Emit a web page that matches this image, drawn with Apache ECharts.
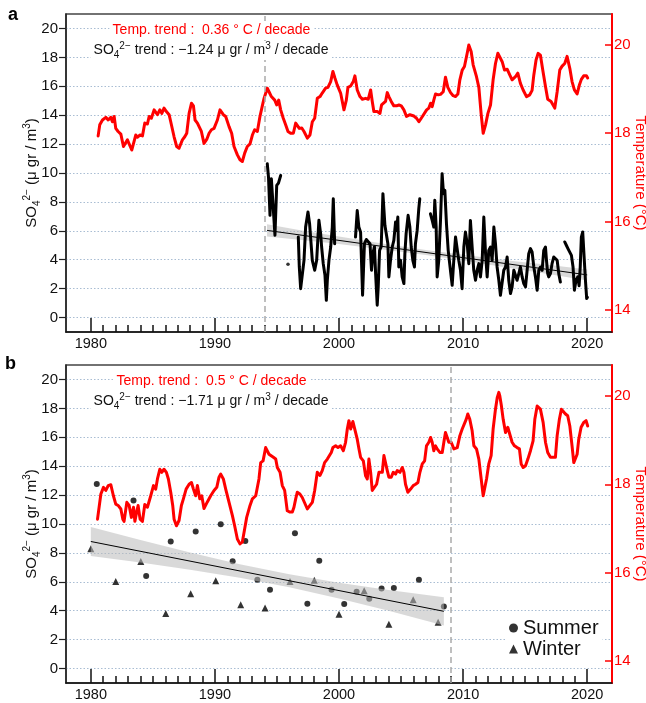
<!DOCTYPE html>
<html>
<head>
<meta charset="utf-8">
<script src="https://cdn.jsdelivr.net/npm/echarts@6/dist/echarts.min.js"></script>
<style>
  html, body { margin: 0; padding: 0; background: #fff; }
  #chart { width: 646px; height: 703px; }
</style>
</head>
<body>
<div id="chart"></div>
<script>
// tick labels
const yearLabels = [1980, 1990, 2000, 2010, 2020];
const soLabels = [0, 2, 4, 6, 8, 10, 12, 14, 16, 18, 20];
const tempLabels = [14, 16, 18, 20];
let yearMinor = [];
for (let y = 1981; y < 2020; y++) yearMinor.push(y);

// panel a - temperature (right axis)
const tempAYears = [1980.59,1980.72,1980.94,1981.21,1981.40,1981.61,1981.74,1981.88,1982.01,1982.20,1982.42,1982.63,1982.74,1982.95,1983.09,1983.30,1983.44,1983.62,1983.76,1983.97,1984.16,1984.35,1984.56,1984.70,1984.88,1985.10,1985.23,1985.37,1985.56,1985.72,1985.90,1986.09,1986.31,1986.44,1986.71,1986.92,1987.11,1987.38,1987.57,1987.73,1987.92,1988.11,1988.27,1988.40,1988.59,1988.75,1988.91,1989.12,1989.34,1989.53,1989.72,1989.93,1990.20,1990.41,1990.52,1990.68,1990.87,1991.14,1991.35,1991.54,1991.81,1992.02,1992.21,1992.40,1992.61,1992.83,1993.02,1993.20,1993.42,1993.63,1993.82,1993.96,1994.09,1994.22,1994.36,1994.55,1994.71,1994.82,1994.98,1995.14,1995.30,1995.51,1995.70,1995.89,1996.10,1996.32,1996.51,1996.64,1996.80,1997.00,1997.18,1997.45,1997.66,1997.85,1998.04,1998.25,1998.47,1998.65,1998.92,1999.11,1999.33,1999.51,1999.67,1999.86,2000.13,2000.40,2000.59,2000.72,2000.94,2001.15,2001.28,2001.47,2001.69,2001.88,2002.14,2002.36,2002.55,2002.68,2002.81,2003.08,2003.30,2003.43,2003.57,2003.75,2003.89,2004.02,2004.21,2004.42,2004.64,2004.83,2005.02,2005.23,2005.44,2005.71,2006.04,2006.25,2006.44,2006.63,2006.79,2007.06,2007.24,2007.38,2007.51,2007.64,2007.78,2008.00,2008.18,2008.40,2008.58,2008.77,2008.99,2009.20,2009.39,2009.58,2009.74,2009.93,2010.11,2010.33,2010.46,2010.65,2010.81,2011.08,2011.27,2011.46,2011.62,2011.81,2012.00,2012.21,2012.42,2012.61,2012.80,2012.93,2013.15,2013.34,2013.55,2013.76,2013.95,2014.22,2014.41,2014.62,2014.84,2015.11,2015.37,2015.56,2015.70,2015.88,2016.05,2016.23,2016.42,2016.64,2016.82,2017.09,2017.25,2017.39,2017.58,2017.79,2017.98,2018.19,2018.38,2018.60,2018.78,2018.97,2019.19,2019.37,2019.53,2019.72,2019.94,2020.04];
const tempAVals = [17.94,18.19,18.30,18.36,18.30,18.36,18.26,18.38,18.11,18.04,17.98,17.70,17.66,17.85,17.81,17.62,17.58,17.96,17.91,17.96,17.94,18.23,18.21,18.38,18.34,18.53,18.57,18.42,18.53,18.45,18.57,18.49,18.42,18.26,17.92,17.70,17.66,17.85,17.92,18.00,18.45,18.68,18.62,18.30,18.23,18.24,18.04,17.77,17.86,18.00,18.08,18.11,18.30,18.53,18.57,18.42,18.38,18.15,18.00,17.70,17.51,17.40,17.36,17.55,17.70,17.76,17.96,18.08,18.04,18.38,18.62,18.79,18.83,19.02,18.94,18.83,18.87,18.75,18.64,18.75,18.53,18.34,18.19,18.04,18.00,18.00,18.23,18.21,18.11,18.12,18.04,17.89,17.96,18.26,18.34,18.79,18.83,18.91,19.02,19.04,19.17,19.40,19.25,19.09,18.91,18.53,18.75,19.04,19.07,19.17,19.30,18.98,18.83,18.77,18.79,18.77,18.98,18.72,18.49,18.49,18.45,18.64,18.60,18.72,18.92,18.83,18.72,18.62,18.62,18.64,18.62,18.53,18.38,18.42,18.39,18.34,18.26,18.34,18.30,18.53,18.57,18.68,18.60,18.75,18.89,18.87,18.88,18.94,19.27,19.04,18.92,18.85,18.83,18.89,19.21,19.43,19.51,19.81,20.00,19.85,19.55,19.28,19.04,18.42,18.00,18.19,18.45,18.64,19.21,19.58,19.81,19.85,19.62,19.43,19.45,19.32,19.21,19.28,19.36,19.13,18.98,18.83,18.87,18.97,19.32,19.66,19.81,19.77,19.43,19.06,18.77,18.72,18.64,18.57,18.94,19.43,19.52,19.58,19.74,19.47,19.17,18.98,18.89,19.09,19.22,19.30,19.30,19.25];

// panel a - SO4 (left axis), null = no measurement
const so4AYears = [1994.22,1994.32,1994.44,1994.55,1994.68,1994.84,1994.98,1995.12,1995.30,1995.60,1995.89,1996.30,1996.72,1996.80,1996.91,1997.04,1997.18,1997.31,1997.50,1997.63,1997.85,1998.04,1998.20,1998.38,1998.47,1998.52,1998.60,1998.73,1998.87,1998.98,1999.06,1999.19,1999.33,1999.46,1999.54,1999.65,2000.50,2001.33,2001.47,2001.60,2001.74,2001.90,2002.05,2002.20,2002.35,2002.50,2002.62,2002.74,2002.86,2002.95,2003.08,2003.16,2003.27,2003.40,2003.54,2003.70,2003.83,2003.94,2004.02,2004.15,2004.29,2004.42,2004.56,2004.64,2004.74,2004.82,2004.96,2005.09,2005.23,2005.31,2005.41,2005.57,2005.71,2005.82,2005.95,2006.08,2006.16,2006.30,2006.43,2006.51,2006.90,2007.37,2007.51,2007.64,2007.72,2007.83,2007.91,2008.04,2008.18,2008.31,2008.42,2008.53,2008.66,2008.80,2008.98,2009.12,2009.25,2009.39,2009.52,2009.65,2009.79,2009.92,2010.06,2010.19,2010.33,2010.46,2010.59,2010.73,2010.86,2011.00,2011.13,2011.27,2011.40,2011.54,2011.67,2011.81,2011.94,2012.07,2012.21,2012.34,2012.48,2012.61,2012.74,2012.88,2013.01,2013.15,2013.28,2013.42,2013.55,2013.68,2013.82,2013.95,2014.09,2014.22,2014.35,2014.49,2014.62,2014.76,2014.89,2015.03,2015.16,2015.29,2015.43,2015.56,2015.70,2015.83,2015.97,2016.10,2016.24,2016.37,2016.50,2016.64,2016.72,2016.82,2016.90,2017.04,2017.17,2017.31,2017.44,2017.58,2017.71,2017.84,2018.00,2018.19,2018.32,2018.45,2018.60,2018.73,2018.86,2018.97,2019.10,2019.24,2019.35,2019.44,2019.53,2019.64,2019.75,2019.86,2019.96,2020.02];
const so4AVals = [10.64,9.70,7.07,9.60,9.50,5.69,9.14,9.30,9.83,null,3.68,null,5.57,3.50,2.00,2.12,3.96,6.26,7.30,6.49,3.96,3.27,3.96,6.73,6.84,5.80,4.88,3.73,2.92,1.19,2.58,3.96,4.88,6.26,8.22,5.11,null,5.57,7.40,6.26,5.90,1.54,5.11,5.40,5.30,5.10,3.27,4.50,4.90,3.04,0.85,2.10,4.65,4.90,8.57,6.38,6.26,5.11,2.81,3.96,4.88,5.34,6.61,6.03,6.95,3.50,3.96,2.81,2.35,4.42,5.80,7.07,6.26,4.88,3.96,3.50,5.11,6.03,7.53,8.22,null,7.18,6.72,6.26,8.11,6.26,2.81,3.96,6.72,9.95,8.57,8.80,6.49,4.65,3.27,2.23,3.96,5.57,5.69,3.96,3.27,2.00,4.88,5.92,5.11,3.73,6.72,4.88,3.27,2.58,3.27,3.73,2.81,3.96,6.95,4.42,2.81,4.65,4.88,3.96,6.26,5.11,3.50,2.58,1.54,1.66,3.27,3.50,4.19,2.58,1.66,2.12,3.27,3.27,2.58,3.04,3.50,2.81,2.35,2.12,3.27,4.42,4.77,4.54,3.50,2.81,1.89,3.27,3.50,3.27,4.65,4.88,3.96,3.04,2.81,3.04,3.73,4.19,4.31,3.96,3.04,2.46,null,5.23,5.00,4.77,4.65,4.30,3.50,1.89,2.58,2.81,2.20,3.50,5.57,5.92,5.80,2.58,1.31,1.40];

const trendAYears = [1994.2, 2020];
const trendAVals = [6.03, 2.95];
const bandAYears = [1994.2, 1997, 2000, 2004, 2007, 2010, 2014, 2017, 2020];
const bandAUpper = [6.45, 6.03, 5.60, 5.06, 4.68, 4.34, 3.92, 3.63, 3.33];
const bandALower = [5.61, 5.37, 5.08, 4.66, 4.32, 3.94, 3.40, 2.99, 2.57];

// panel b - temperature (right axis)
const tempBYears = [1980.54,1980.81,1981.02,1981.21,1981.40,1981.61,1981.82,1982.01,1982.20,1982.42,1982.58,1982.68,1982.90,1983.09,1983.27,1983.44,1983.55,1983.70,1983.81,1983.97,1984.16,1984.35,1984.56,1984.83,1985.05,1985.23,1985.37,1985.56,1985.72,1985.90,1986.09,1986.25,1986.44,1986.60,1986.71,1986.90,1987.11,1987.30,1987.46,1987.68,1987.92,1988.11,1988.27,1988.45,1988.59,1988.78,1988.94,1989.12,1989.39,1989.66,1989.93,1990.15,1990.33,1990.47,1990.68,1990.87,1991.14,1991.41,1991.59,1991.81,1992.02,1992.21,1992.40,1992.56,1992.83,1993.02,1993.29,1993.55,1993.69,1993.88,1994.09,1994.22,1994.36,1994.49,1994.71,1994.90,1995.03,1995.25,1995.43,1995.62,1995.83,1996.05,1996.24,1996.37,1996.51,1996.64,1996.85,1997.04,1997.18,1997.45,1997.66,1997.85,1998.04,1998.25,1998.47,1998.65,1998.84,1999.06,1999.20,1999.38,1999.51,1999.73,1999.92,2000.13,2000.35,2000.53,2000.67,2000.80,2000.94,2001.12,2001.28,2001.47,2001.61,2001.74,2001.96,2002.14,2002.28,2002.41,2002.55,2002.68,2002.81,2003.03,2003.22,2003.35,2003.49,2003.62,2003.75,2003.89,2004.02,2004.21,2004.37,2004.56,2004.69,2004.91,2005.10,2005.23,2005.36,2005.55,2005.77,2005.98,2006.17,2006.36,2006.52,2006.71,2006.90,2007.05,2007.24,2007.38,2007.51,2007.64,2007.78,2007.91,2008.13,2008.32,2008.45,2008.58,2008.72,2008.85,2009.04,2009.26,2009.39,2009.53,2009.74,2009.93,2010.06,2010.25,2010.38,2010.54,2010.73,2010.87,2011.08,2011.27,2011.46,2011.62,2011.73,2011.89,2012.07,2012.26,2012.42,2012.61,2012.75,2012.88,2012.96,2013.09,2013.23,2013.42,2013.60,2013.76,2013.95,2014.14,2014.35,2014.54,2014.68,2014.84,2015.03,2015.22,2015.43,2015.64,2015.78,2015.97,2016.10,2016.23,2016.45,2016.64,2016.82,2017.04,2017.25,2017.44,2017.58,2017.76,2017.92,2018.06,2018.25,2018.43,2018.60,2018.78,2018.92,2019.05,2019.19,2019.32,2019.51,2019.72,2019.91,2020.04];
const tempBVals = [17.21,17.78,17.93,17.86,17.97,17.99,17.74,17.55,17.52,17.44,17.21,17.16,17.59,17.52,17.25,17.48,17.16,17.38,17.52,17.21,17.16,17.54,17.48,17.74,17.97,17.89,18.12,18.34,18.27,18.34,18.27,18.12,17.82,17.52,17.21,17.06,17.18,17.52,17.67,17.89,18.00,18.04,17.89,17.74,17.97,17.67,17.74,17.45,17.60,17.74,17.86,17.93,18.16,18.23,18.12,17.89,17.59,17.29,17.06,16.76,16.65,16.69,16.99,17.25,17.52,17.67,17.74,18.12,18.49,18.53,18.83,18.79,18.68,18.72,18.61,18.57,18.38,18.27,17.97,17.86,17.40,17.37,17.37,17.48,17.67,17.82,17.78,17.70,17.67,17.44,17.52,17.59,17.86,18.27,18.20,18.31,18.49,18.57,18.57,18.72,18.83,18.87,18.83,18.87,18.76,18.95,19.25,19.44,19.25,19.42,19.44,19.02,18.80,18.61,18.53,18.19,18.12,18.57,18.27,17.86,17.82,18.00,18.27,18.31,18.27,18.65,18.61,18.31,18.16,18.16,18.27,18.23,18.31,18.27,18.38,18.27,18.00,17.82,17.89,17.97,18.00,18.04,18.27,18.46,18.53,18.87,18.95,19.06,18.95,18.76,18.87,18.80,18.72,18.72,18.95,19.17,19.06,18.95,18.95,18.80,18.76,18.83,19.10,19.25,19.25,19.47,19.59,19.47,19.21,18.87,18.80,18.57,18.12,17.74,17.74,18.12,18.46,18.65,19.25,19.70,19.96,20.08,20.00,19.77,19.47,19.17,19.29,19.25,18.95,18.87,18.83,18.80,18.46,18.38,18.42,18.57,18.76,18.98,19.47,19.77,19.79,19.70,19.40,18.95,18.72,18.61,18.61,18.61,19.10,19.47,19.70,19.66,19.59,19.55,19.32,18.87,18.49,18.53,18.68,19.02,19.29,19.40,19.44,19.32];

// panel b - seasonal SO4 (left axis)
const summerYears = [1980.48,1983.44,1984.46,1986.44,1988.45,1990.47,1991.43,1992.45,1993.42,1994.44,1996.45,1997.45,1998.41,1999.40,2000.42,2001.42,2002.44,2003.43,2004.42,2006.44,2008.45];
const summerVals = [12.77,11.62,6.40,8.79,9.48,9.98,7.43,8.83,6.14,5.45,9.36,4.49,7.45,5.45,4.46,5.31,4.83,5.54,5.57,6.14,4.30];
const winterYears = [1980.0,1982.01,1984.03,1986.04,1988.05,1990.07,1992.08,1994.04,1996.05,1998.01,2000.0,2002.03,2004.02,2005.98,2007.99];
const winterVals = [8.28,6.03,7.41,3.80,5.18,6.07,4.42,4.19,6.03,6.10,3.75,5.38,3.06,4.76,3.20];

const trendBYears = [1980.0, 2008.45];
const trendBVals = [8.79, 3.96];
const bandBYears = [1980.0, 1984, 1988, 1992, 1996, 2000, 2004, 2008.45];
const bandBUpper = [9.79, 8.89, 8.03, 7.22, 6.52, 5.94, 5.43, 4.94];
const bandBLower = [7.79, 7.33, 6.83, 6.28, 5.62, 4.84, 3.99, 2.98];

const FONT = '"Liberation Sans", Arial, Helvetica, sans-serif';
const GRID_COLOR = '#a9bdd3';
const BAND_COLOR = 'rgba(185,185,185,0.55)';

function zip(xs, ys) {
    return xs.map((x, i) => [x, ys[i]]);
}

// points with no neighbour on either side are invisible in a line, draw them as dots
function isolated(xs, ys) {
    let out = [];
    for (let i = 0; i < ys.length; i++) {
        if (ys[i] == null) continue;
        const prev = i > 0 ? ys[i - 1] : null;
        const next = i < ys.length - 1 ? ys[i + 1] : null;
        if (prev == null && next == null) out.push([xs[i], ys[i]]);
    }
    return out;
}

function richFor(color, size) {
    return {
        sub: { fill: color, color: color, fontFamily: FONT, fontSize: size, lineHeight: size, verticalAlign: 'bottom' },
        sup: { fill: color, color: color, fontFamily: FONT, fontSize: size, lineHeight: size, verticalAlign: 'top' }
    };
}

function xAxes(gridIndex) {
    return [{
        type: 'value', gridIndex, min: 1978, max: 2022, minInterval: 10, maxInterval: 10,
        position: 'bottom',
        axisLine: { show: true, onZero: false, lineStyle: { color: '#111', width: 1.5 } },
        axisTick: { show: true, inside: true, length: 14, customValues: yearLabels, lineStyle: { color: '#111', width: 1.5 } },
        axisLabel: { customValues: yearLabels, color: '#111', fontSize: 14.5, margin: 4, fontFamily: FONT, formatter: v => String(v) },
        splitLine: { show: false }
    }, {
        type: 'value', gridIndex, min: 1978, max: 2022, minInterval: 10, maxInterval: 10,
        position: 'bottom',
        axisLine: { show: false, onZero: false },
        axisTick: { show: true, inside: true, length: 7, customValues: yearMinor, lineStyle: { color: '#111', width: 1.5 } },
        axisLabel: { show: false },
        splitLine: { show: false }
    }];
}

function yAxes(gridIndex) {
    return [{
        type: 'value', gridIndex, min: -1, max: 21, minInterval: 2, maxInterval: 2,
        position: 'left',
        axisLine: { show: true, onZero: false, lineStyle: { color: '#222', width: 1.5 } },
        axisTick: { show: true, inside: false, length: 7, customValues: soLabels, lineStyle: { color: '#222', width: 1.2 } },
        axisLabel: { customValues: soLabels, color: '#111', fontSize: 15, margin: 8, fontFamily: FONT },
        splitLine: { show: true, lineStyle: { color: GRID_COLOR, width: 1, type: [1.5, 2] } },
        name: 'SO{sub|4}{sup|2−} (μ gr / m{sup|3})',
        nameLocation: 'middle', nameRotate: 90, nameGap: 24, nameMoveOverlap: false,
        nameTextStyle: { color: '#111', fontSize: 15, lineHeight: 20, fontFamily: FONT, rich: richFor('#111', 10) }
    }, {
        type: 'value', gridIndex, min: 13.5, max: 20.7,
        position: 'right',
        axisLine: { show: true, onZero: false, lineStyle: { color: '#ff0000', width: 2 } },
        axisTick: { show: true, inside: true, length: 7, customValues: tempLabels, lineStyle: { color: '#ff0000', width: 1.5 } },
        axisLabel: { customValues: tempLabels, color: '#ff0000', fontSize: 15, margin: 2, fontFamily: FONT },
        splitLine: { show: false },
        name: 'Temperature (°C)',
        nameLocation: 'middle', nameRotate: -90, nameGap: 21, nameMoveOverlap: false,
        nameTextStyle: { color: '#ff0000', fontSize: 15, lineHeight: 15, fontFamily: FONT }
    }];
}

function dashedAt(year) {
    return {
        silent: true, symbol: ['none', 'none'],
        label: { show: false },
        lineStyle: { color: '#aaaaaa', type: [6, 4], width: 1.5 },
        data: [{ xAxis: year }]
    };
}

// confidence band: one polygon, corners placed through the axes
function bandSeries(xi, yi, years, lower, upper) {
    return {
        type: 'custom', xAxisIndex: xi, yAxisIndex: yi, silent: true, z: 3,
        data: [[years[0], upper[0]]],
        renderItem: function (params, api) {
            let pts = [];
            for (let i = 0; i < years.length; i++) pts.push(api.coord([years[i], upper[i]]));
            for (let i = years.length - 1; i >= 0; i--) pts.push(api.coord([years[i], lower[i]]));
            return { type: 'polygon', shape: { points: pts }, style: { fill: BAND_COLOR } };
        }
    };
}

function textAt(x, y, text, color) {
    return {
        type: 'text', z: 100, silent: true,
        style: {
            text: text, x: x, y: y, align: 'center', verticalAlign: 'middle',
            fill: color, fontSize: 14, fontFamily: FONT, lineHeight: 19,
            backgroundColor: '#fff', padding: [0, 3],
            rich: richFor(color, 10)
        }
    };
}

let chart = echarts.init(document.getElementById('chart'), null, { renderer: 'canvas' });

let gridBase = {
    left: 66, right: 34, height: 318, show: true,
    borderColor: '#444', borderWidth: 1.5, backgroundColor: 'transparent',
    containLabel: false, outerBoundsMode: 'none'
};

let option = {
    animation: false,
    backgroundColor: '#fff',
    textStyle: { fontFamily: FONT },
    grid: [
        Object.assign({ top: 14 }, gridBase),
        Object.assign({ top: 365 }, gridBase)
    ],
    xAxis: xAxes(0).concat(xAxes(1)),
    yAxis: yAxes(0).concat(yAxes(1)),
    legend: {
        data: ['Summer', 'Winter'],
        orient: 'vertical', left: 506, top: 617,
        itemWidth: 9, itemHeight: 9, itemGap: 1,
        backgroundColor: '#fff', padding: [1, 4, 1, 3],
        textStyle: { fontSize: 20, color: '#111', fontFamily: FONT, lineHeight: 20 }
    },
    graphic: [
        { type: 'text', left: 8, top: 6, style: { text: 'a', fontSize: 18, fontWeight: 'bold', fill: '#000', fontFamily: FONT } },
        { type: 'text', left: 5, top: 355, style: { text: 'b', fontSize: 18, fontWeight: 'bold', fill: '#000', fontFamily: FONT } },
        textAt(211.5, 30.5, 'Temp. trend :  0.36 ° C / decade', '#ff0000'),
        textAt(211, 50.5, 'SO{sub|4}{sup|2−} trend : −1.24 μ gr / m{sup|3} / decade', '#111'),
        textAt(211.5, 381.5, 'Temp. trend :  0.5 ° C / decade', '#ff0000'),
        textAt(211, 401.5, 'SO{sub|4}{sup|2−} trend : −1.71 μ gr / m{sup|3} / decade', '#111')
    ],
    series: [
        // panel a
        {
            type: 'line', xAxisIndex: 0, yAxisIndex: 1, symbol: 'none',
            lineStyle: { color: '#ff0000', width: 3, join: 'round', cap: 'round' },
            data: zip(tempAYears, tempAVals),
            markLine: dashedAt(1994)
        },
        {
            type: 'line', xAxisIndex: 0, yAxisIndex: 0, symbol: 'none', connectNulls: false,
            lineStyle: { color: '#000', width: 3, join: 'round', cap: 'round' },
            data: zip(so4AYears, so4AVals)
        },
        {
            type: 'scatter', xAxisIndex: 0, yAxisIndex: 0, symbol: 'circle', symbolSize: 3.5,
            itemStyle: { color: '#000' }, data: isolated(so4AYears, so4AVals)
        },
        bandSeries(0, 0, bandAYears, bandALower, bandAUpper),
        {
            type: 'line', xAxisIndex: 0, yAxisIndex: 0, symbol: 'none', z: 4,
            lineStyle: { color: '#000', width: 1 }, data: zip(trendAYears, trendAVals)
        },
        // panel b
        {
            type: 'line', xAxisIndex: 2, yAxisIndex: 3, symbol: 'none',
            lineStyle: { color: '#ff0000', width: 3, join: 'round', cap: 'round' },
            data: zip(tempBYears, tempBVals),
            markLine: dashedAt(2009)
        },
        {
            name: 'Summer', type: 'scatter', xAxisIndex: 2, yAxisIndex: 2,
            symbol: 'circle', symbolSize: 6, itemStyle: { color: '#000' },
            data: zip(summerYears, summerVals)
        },
        {
            name: 'Winter', type: 'scatter', xAxisIndex: 2, yAxisIndex: 2,
            symbol: 'triangle', symbolSize: 7, itemStyle: { color: '#000' },
            data: zip(winterYears, winterVals)
        },
        bandSeries(2, 2, bandBYears, bandBLower, bandBUpper),
        {
            type: 'line', xAxisIndex: 2, yAxisIndex: 2, symbol: 'none', z: 4,
            lineStyle: { color: '#000', width: 1 }, data: zip(trendBYears, trendBVals)
        }
    ]
};

chart.setOption(option);
</script>
</body>
</html>
